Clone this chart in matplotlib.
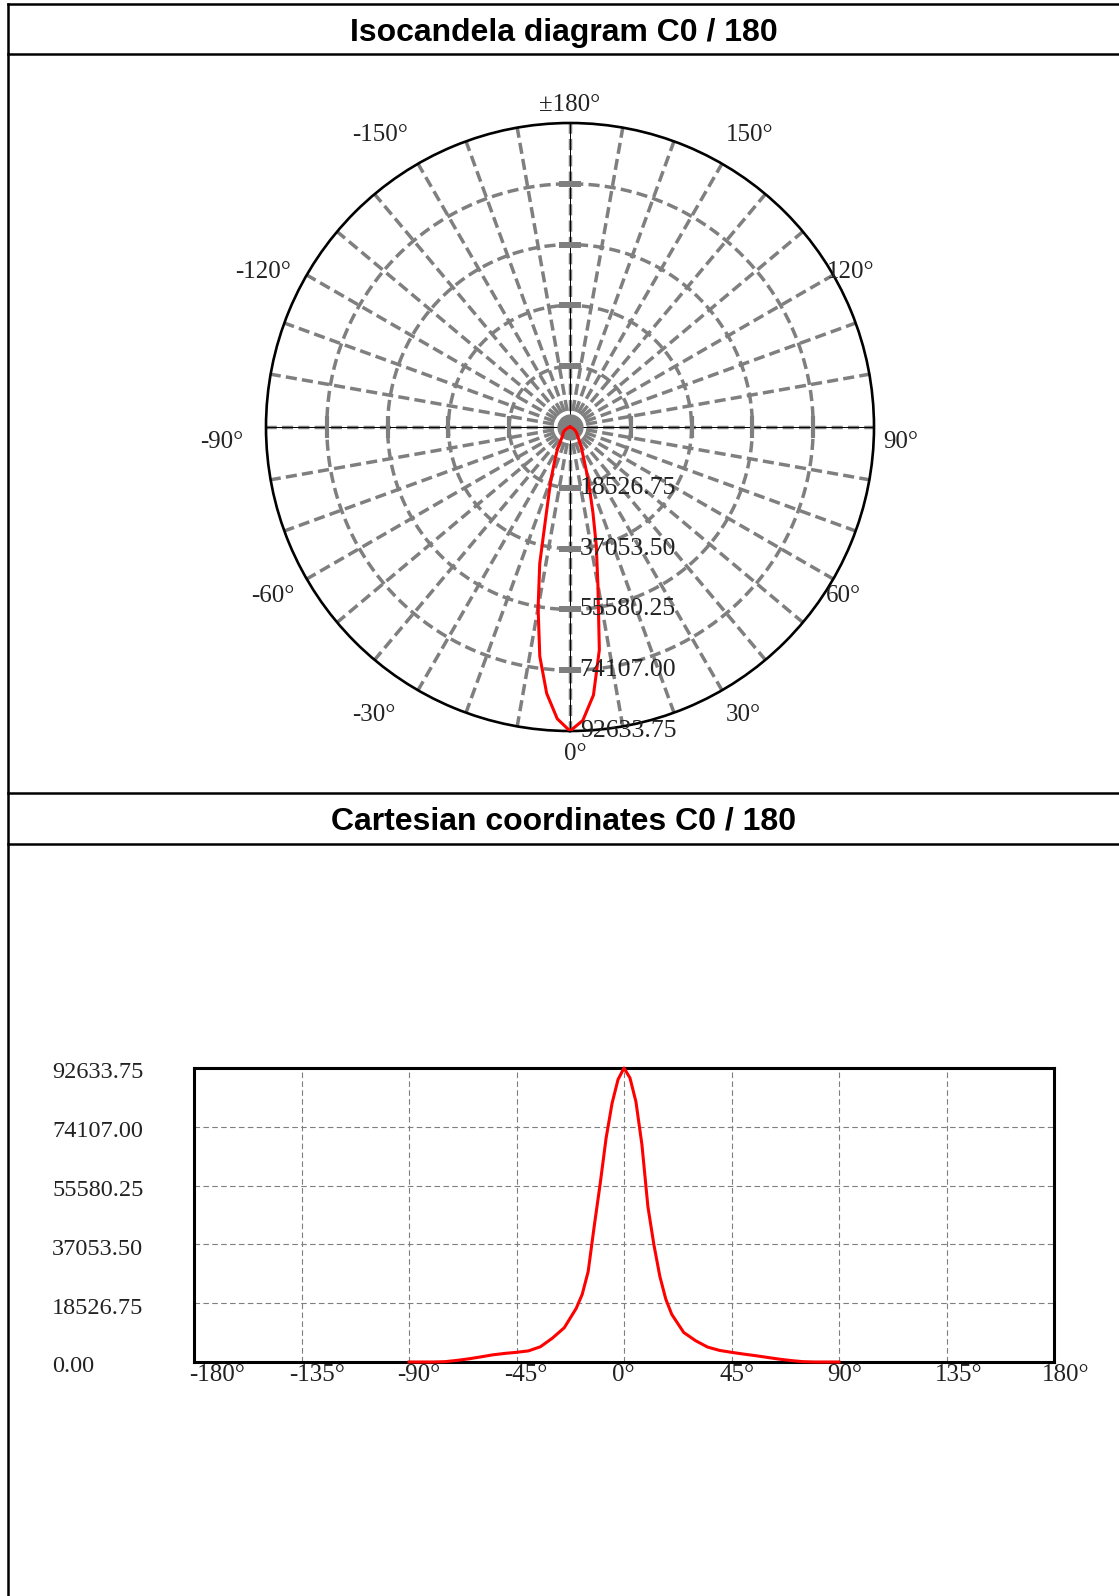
import numpy as np
import matplotlib
matplotlib.use("Agg")
import matplotlib.pyplot as plt
from matplotlib import transforms

# intensity curve C0 / 180 (cd)
angles = [-90, -85, -80, -75, -70, -65, -60, -55, -50, -45, -40, -35, -30, -25,
          -20, -17.5, -15, -12.5, -10, -7.5, -5, -2.5, 0, 2.5, 5, 7.5, 10, 12.5,
          15, 17.5, 20, 25, 30, 35, 40, 45, 50, 55, 60, 65, 70, 75, 80, 85, 90]
values = [0, 0, 0, 100, 500, 1000, 1600, 2250, 2700, 3050, 3500, 4800, 7500, 10800,
          16900, 21300, 28500, 42600, 56000, 70500, 81500, 89000, 92633.75, 89500, 82000, 68500, 49000, 37000,
          27000, 19800, 15000, 9300, 6700, 4700, 3650, 3050, 2500, 2000, 1450, 900, 450, 100, 0, 0, 0]

r_ticks = [18526.75, 37053.50, 55580.25, 74107.00, 92633.75]
r_labels = ["18526.75", "37053.50", "55580.25", "74107.00", "92633.75"]
y_ticks = [0.0, 18526.75, 37053.50, 55580.25, 74107.00, 92633.75]
y_labels = ["0.00", "18526.75", "37053.50", "55580.25", "74107.00", "92633.75"]
x_ticks = [-180, -135, -90, -45, 0, 45, 90, 135, 180]
x_labels = ["-180°", "-135°", "-90°", "-45°", "0°", "45°", "90°", "135°", "180°"]
polar_names = ["±180°", "150°", "120°", "90°", "60°", "30°", "0°",
               "-30°", "-60°", "-90°", "-120°", "-150°"]
# where each angle label sits (theta in degrees, radius as a fraction of the outer ring)
polar_label_theta = [180, 148.7, 119.4, 88, 58.7, 31.3, 0.9,
                     -34.6, -60.8, -88, -117.2, -147.3]
polar_label_r = [1.069, 1.136, 1.058, 1.089, 1.051, 1.097, 1.065,
                 1.139, 1.12, 1.146, 1.137, 1.154]

W, H = 1119, 1596
GRAY = "#7f7f7f"
TXT = "#222222"
SERIF = "Liberation Serif"
SANS = "Liberation Sans"

fig = plt.figure(figsize=(W / 100, H / 100), dpi=100)


def box(x0, y0, x1, y1):
    # pixel box (top-left origin) -> figure fraction rect
    return [x0 / W, 1 - y1 / H, (x1 - x0) / W, (y1 - y0) / H]


# frame and title bands
for yy in [4, 54, 793, 844]:
    fig.add_artist(plt.Line2D([8 / W, 1], [1 - yy / H] * 2, color="black", lw=1.8))
fig.add_artist(plt.Line2D([8 / W] * 2, [0, 1 - 4 / H], color="black", lw=1.8))
fig.text(564 / W, 1 - 33 / H, "Isocandela diagram C0 / 180", ha="center", va="center",
         fontsize=23, fontweight="bold", family=SANS)
fig.text(564 / W, 1 - 822 / H, "Cartesian coordinates C0 / 180", ha="center", va="center",
         fontsize=23, fontweight="bold", family=SANS)

# ---- polar diagram ----
cx, cy, R = 570, 427, 304
pax = fig.add_axes(box(cx - R, cy - R, cx + R, cy + R), projection="polar")
pax.set_theta_zero_location("S")
pax.set_theta_direction(1)
rmax = r_ticks[-1]
pax.set_ylim(0, rmax)
pax.set_xticks([])
pax.set_yticks([])
pax.grid(False)
pax.spines["polar"].set_color("black")
pax.spines["polar"].set_linewidth(1.9)

th = np.linspace(0, 2 * np.pi, 361)
dash = (0, (3.2, 1.5))
for r in r_ticks[:-1]:
    pax.plot(th, np.full_like(th, r), color=GRAY, lw=2.5, ls=dash, zorder=1)
for a in range(0, 360, 10):
    t = np.deg2rad(a)
    pax.plot([t, t], [0, rmax], color=GRAY, lw=2.5, ls=dash, zorder=1)
for a in [0, 90, 180, 270]:
    t = np.deg2rad(a)
    pax.plot([t, t], [0, rmax], color="black", lw=0.7, zorder=2)
    mk = "_" if a in (0, 180) else "|"
    pax.plot([t] * 4, r_ticks[:-1], ls="none", marker=mk, ms=16, mew=3, color=GRAY, zorder=2)
pax.scatter([0], [0], s=320, color=GRAY, zorder=3)

pax.plot(np.deg2rad(angles), values, color="red", lw=2.2, zorder=4)

for r, lab in zip(r_ticks, r_labels):
    pax.annotate(lab, xy=(0, r), xytext=(7, 0), textcoords="offset points",
                 ha="left", va="center", fontsize=18.5, family=SERIF, color=TXT, zorder=5)

ptr = transforms.offset_copy(pax.transData, fig=fig, y=-3, units="dots")
for t, f, lab in zip(polar_label_theta, polar_label_r, polar_names):
    pax.text(np.deg2rad(t), rmax * f, lab, transform=ptr, ha="center", va="center",
             fontsize=18, family=SERIF, color=TXT, clip_on=False)

# ---- cartesian diagram ----
ax = fig.add_axes(box(194, 1068, 1054, 1362))
ax.plot(angles, values, color="red", lw=2.2, zorder=3, clip_on=False)
ax.set_xlim(-180, 180)
ax.set_ylim(0, rmax)
ax.set_xticks(x_ticks[1:-1])
ax.set_yticks(y_ticks[1:-1])
ax.tick_params(length=0, labelbottom=False, labelleft=False)
ax.grid(True, color=GRAY, lw=0.8, ls=(0, (5, 3)))
for s in ax.spines.values():
    s.set_linewidth(2.2)
    s.set_color("black")

ytr = transforms.offset_copy(transforms.blended_transform_factory(fig.transFigure, ax.transData),
                             fig=fig, y=-5, units="dots")
for v, lab in zip(y_ticks, y_labels):
    ax.text(52 / W, v, lab, transform=ytr, ha="left", va="center",
            fontsize=17.5, family=SERIF, color=TXT)

# labels start a little left of their tick, the first one kept near the frame
for i, (v, lab) in enumerate(zip(x_ticks, x_labels)):
    dx = -5 if i == 0 else -12
    tr = transforms.offset_copy(ax.get_xaxis_transform(), fig=fig, x=dx, y=-13, units="dots")
    ax.text(v, 0, lab, transform=tr, ha="left", va="center",
            fontsize=18, family=SERIF, color=TXT, clip_on=False)

fig.savefig("out.png", dpi=100)
